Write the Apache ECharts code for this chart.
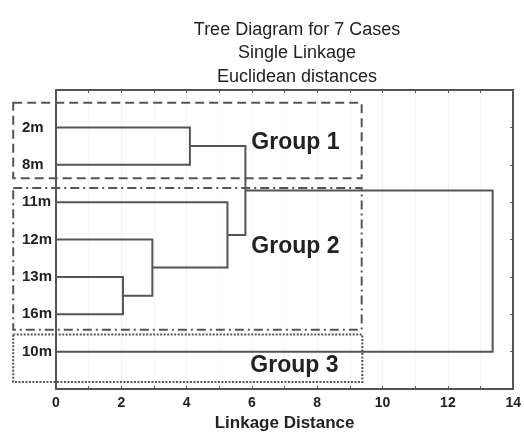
<!DOCTYPE html>
<html>
<head>
<meta charset="utf-8">
<script src="https://cdn.jsdelivr.net/npm/echarts@6/dist/echarts.min.js"></script>
<style>html,body{margin:0;padding:0;background:#fff}#c{width:524px;height:437px}</style>
</head>
<body>
<div id="c"></div>
<script>
// ---- data ----
const leaves = ['2m', '8m', '11m', '12m', '13m', '16m', '10m'];
// merges: [childA, childB, linkage distance]; child = leaf index or 'cK' (K-th merge)
const merges = [
  [4, 5, 2.05],
  [3, 'c0', 2.95],
  [2, 'c1', 5.25],
  [0, 1, 4.1],
  ['c3', 'c2', 5.8],
  ['c4', 6, 13.37]
];
const xTicks = [0, 2, 4, 6, 8, 10, 12, 14];
// group annotation boxes: [name, xFrom, xTo, yFrom, yTo, labelX, labelY, dashStyle]
const groups = [
  ['Group 1', -1.31, 9.36, 0.34, 2.36, 7.33, 1.42, 'dash'],
  ['Group 2', -1.31, 9.36, 2.62, 6.41, 7.33, 4.2, 'dashdot'],
  ['Group 3', -1.31, 9.38, 6.54, 7.81, 7.3, 7.38, 'dot']
];

// ---- compute dendrogram geometry ----
const clusters = [];
function node(ref) {
  if (typeof ref === 'number') return { y: ref + 1, h: 0 };
  return clusters[parseInt(ref.slice(1))];
}
const linkData = merges.map(m => {
  const a = node(m[0]), b = node(m[1]);
  clusters.push({ y: (a.y + b.y) / 2, h: m[2] });
  return [a.h, a.y, b.h, b.y, m[2]];
});

const FONT = 'Liberation Sans, Arial, sans-serif';
const LINE = '#555';
const dashMap = { dash: [9, 5], dashdot: [9, 4, 2, 4], dot: [2, 1.5] };

const chart = echarts.init(document.getElementById('c'));
chart.setOption({
  animation: false,
  title: {
    text: 'Tree Diagram for 7 Cases\nSingle Linkage\nEuclidean distances',
    left: 292, top: 13, textAlign: 'center',
    textStyle: { fontFamily: FONT, fontSize: 18, fontWeight: 'normal', color: '#222', lineHeight: 23.5 }
  },
  grid: { left: 56, right: 7, top: 90, bottom: 45 },
  xAxis: [{
    type: 'value', min: 0, max: 14, interval: 2, position: 'bottom',
    name: 'Linkage Distance', nameLocation: 'middle', nameGap: 24,
    nameTextStyle: { fontFamily: FONT, fontSize: 17, fontWeight: 'bold', color: '#222' },
    axisLine: { show: true, onZero: false, lineStyle: { color: LINE, width: 2 } },
    axisTick: { show: true, inside: true, length: 3, lineStyle: { color: LINE } },
    minorTick: { show: true, splitNumber: 2, length: 3, lineStyle: { color: LINE } },
    axisLabel: { fontFamily: FONT, fontSize: 14, fontWeight: 'bold', color: '#222', margin: 7,
      formatter: v => xTicks.includes(v) ? String(v) : '' },
    splitLine: { show: true, lineStyle: { color: '#f2f2f2', width: 1 } },
    minorSplitLine: { show: true, lineStyle: { color: '#f6f6f6', width: 1 } }
  }, {
    type: 'value', min: 0, max: 14, interval: 1, position: 'top',
    axisLine: { show: true, onZero: false, lineStyle: { color: LINE, width: 2 } },
    axisTick: { show: true, inside: true, length: 3, lineStyle: { color: LINE } },
    axisLabel: { show: false }, splitLine: { show: false }
  }],
  yAxis: [{
    type: 'value', min: 0, max: 8, interval: 1, inverse: true, position: 'left',
    axisLine: { show: true, onZero: false, lineStyle: { color: LINE, width: 2 } },
    axisTick: { show: false },
    axisLabel: { fontFamily: FONT, fontSize: 15, fontWeight: 'bold', color: '#222', margin: 34, align: 'left',
      formatter: v => leaves[v - 1] || '' },
    splitLine: { show: false }
  }, {
    type: 'value', min: 0, max: 8, interval: 1, inverse: true, position: 'right',
    axisLine: { show: true, onZero: false, lineStyle: { color: LINE, width: 2 } },
    axisTick: { show: true, inside: true, length: 3, lineStyle: { color: LINE } },
    axisLabel: { show: false }, splitLine: { show: false }
  }],
  series: [{
    type: 'custom',
    xAxisIndex: 0, yAxisIndex: 0,
    clip: false,
    data: groups.map(g => [g[1], g[2], g[3], g[4], g[5], g[6]]),
    renderItem: (params, api) => {
      const g = groups[params.dataIndex];
      const p1 = api.coord([g[1], g[3]]);
      const p2 = api.coord([g[2], g[4]]);
      const lp = api.coord([g[5], g[6]]);
      return {
        type: 'group',
        children: [{
          type: 'rect',
          shape: { x: p1[0], y: p1[1], width: p2[0] - p1[0], height: p2[1] - p1[1] },
          style: { fill: 'none', stroke: LINE, lineWidth: 2, lineDash: dashMap[g[7]] }
        }, {
          type: 'text',
          x: lp[0], y: lp[1],
          style: { text: g[0], fontFamily: FONT, fontSize: 23, fontWeight: 'bold', fill: '#222',
            align: 'center', verticalAlign: 'middle' }
        }]
      };
    }
  }, {
    type: 'custom',
    xAxisIndex: 0, yAxisIndex: 0,
    clip: false,
    data: linkData,
    renderItem: (params, api) => {
      const a = api.coord([api.value(0), api.value(1)]);
      const b = api.coord([api.value(2), api.value(3)]);
      const h = api.coord([api.value(4), api.value(1)])[0];
      return {
        type: 'polyline',
        shape: { points: [a, [h, a[1]], [h, b[1]], b] },
        style: { fill: 'none', stroke: LINE, lineWidth: 2 }
      };
    }
  }]
});
</script>
</body>
</html>
